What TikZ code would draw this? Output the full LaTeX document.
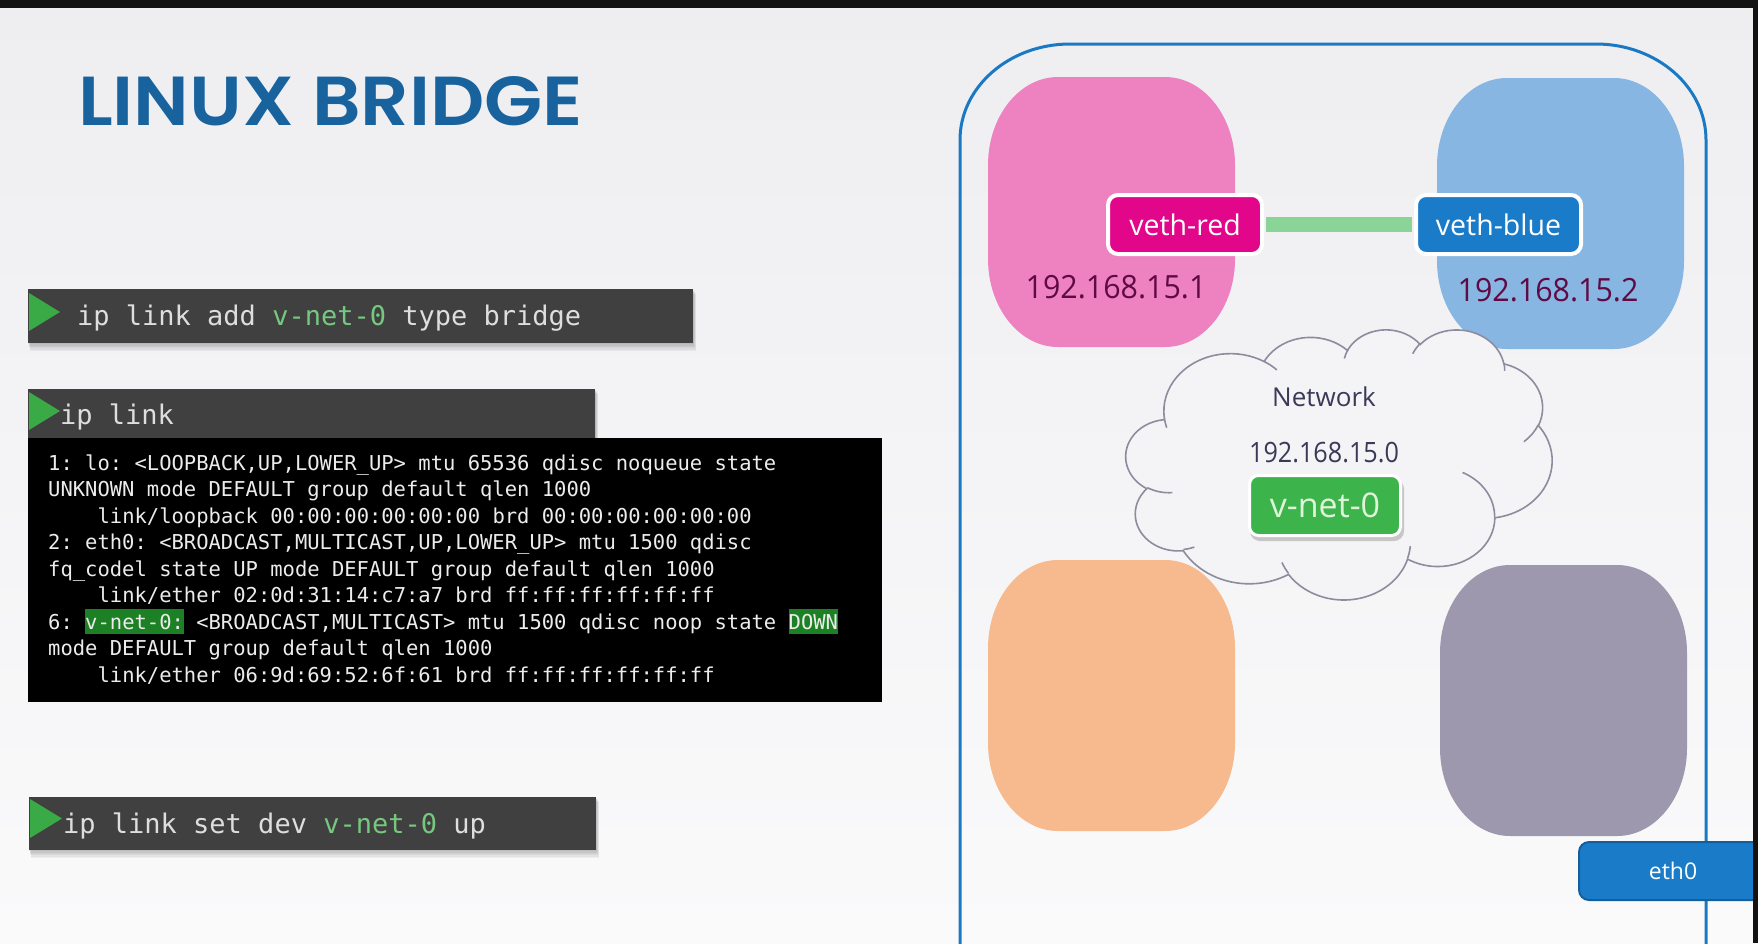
\documentclass[tikz,border=0pt]{standalone}
\usepackage{fontspec}
\usepackage{graphicx}
\newfontfamily\uisans{Open Sans}
\newfontfamily\termmono{DejaVu Sans Mono}
\newfontfamily\headfont{Poppins SemiBold}

\definecolor{bgtop}{RGB}{238,238,241}
\definecolor{bgbot}{RGB}{250,250,251}
\definecolor{framedark}{RGB}{18,18,18}
\definecolor{cmdgray}{RGB}{64,64,64}
\definecolor{cmdtext}{RGB}{222,222,222}
\definecolor{cmdgreen}{RGB}{118,200,128}
\definecolor{playgreen}{RGB}{57,170,70}
\definecolor{termtext}{RGB}{236,236,236}
\definecolor{hlgreen}{RGB}{28,128,36}
\definecolor{titleblue}{RGB}{24,98,158}
\definecolor{hostblue}{RGB}{27,121,196}
\definecolor{nspink}{RGB}{238,130,193}
\definecolor{nsblue}{RGB}{135,182,226}
\definecolor{nsorange}{RGB}{246,186,142}
\definecolor{nsgray}{RGB}{157,152,174}
\definecolor{vethred}{RGB}{226,6,138}
\definecolor{vethblue}{RGB}{26,124,200}
\definecolor{pipegreen}{RGB}{137,212,150}
\definecolor{ipred}{RGB}{96,10,68}
\definecolor{cloudline}{RGB}{140,140,158}
\definecolor{cloudfill}{RGB}{244,244,247}
\definecolor{netnavy}{RGB}{58,58,88}
\definecolor{bridgegreen}{RGB}{60,180,75}
\definecolor{bridgetext}{RGB}{222,245,218}
\definecolor{ethborder}{RGB}{20,94,158}

% green highlight behind terminal words
\newcommand\hl[1]{{\setlength{\fboxsep}{0pt}\colorbox{hlgreen}{\rule[-5pt]{0pt}{25pt}#1}}}

% namespace blob: rounded rectangle with elliptic corners
\newcommand\nsshape[5]{%
  \fill[#1] ({#2+70},#3) -- ({#4-70},#3)
    arc[start angle=-90,end angle=0,x radius=70,y radius=88] -- (#4,{#5-88})
    arc[start angle=0,end angle=90,x radius=70,y radius=88] -- ({#2+70},#5)
    arc[start angle=90,end angle=180,x radius=70,y radius=88] -- (#2,{#3+88})
    arc[start angle=180,end angle=270,x radius=70,y radius=88] -- cycle;}

% soft shadow under a command bar
\newcommand\barshadow[4]{%
  \foreach \k in {1,...,6}{%
    \fill[black,opacity=0.045] ({#1+\k*0.3},{#2+\k*0.8}) rectangle ({#3+\k*0.5},{#4+\k*1.3});}}

% cloud outline arcs: ray angle -> ellipse parameter
\newcommand\cloudang[3]{%
  \pgfmathsetmacro\clouddiff{atan2((#1)*sin(#3),(#2)*cos(#3))-(#3)}%
  \pgfmathsetmacro\cloudres{(#3)+\clouddiff-360*round(\clouddiff/360)}}
\newcommand\cloudarc[4]{%
  \cloudang{#1}{#2}{#3}\global\let\cloudsa\cloudres
  \pgfmathsetmacro\cloudend{(#3)+(#4)}%
  \cloudang{#1}{#2}{\cloudend}\global\let\cloudea\cloudres}

\tikzset{
  cmdbox/.style={fill=cmdgray, inner sep=0pt, anchor=north west},
  cmdtxt/.style={anchor=base west, inner sep=0pt, text=cmdtext,
    font=\termmono\fontsize{27}{32}\selectfont\frenchspacing},
  termtxt/.style={anchor=base west, inner sep=0pt, text=termtext,
    font=\termmono\fontsize{20.5}{24}\selectfont\frenchspacing},
  iface/.style={draw=white, line width=4pt, rounded corners=10pt, text=white,
    font=\uisans\fontsize{28.5}{34}\selectfont, inner sep=0pt, minimum height=59pt},
  iptxt/.style={anchor=base, inner sep=0pt, text=ipred,
    font=\uisans\fontsize{32}{38}\selectfont},
  cloudpen/.style={draw=cloudline, line width=1.6pt},
}

\begin{document}
\begin{tikzpicture}[x=1pt,y=-1pt]
\useasboundingbox (0,0) rectangle (1758,943);
\shade[top color=bgtop, bottom color=bgbot] (0,0) rectangle (1758,943);

% title
\node[anchor=base west, inner sep=0pt, text=titleblue] (title) at (78,125)
  {\resizebox{505pt}{49pt}{\headfont LINUX BRIDGE}};

% command bar 1
\barshadow{28}{289}{693}{343}
\node[cmdbox, minimum width=665pt, minimum height=54pt] (cmd1) at (28,289) {};
\fill[playgreen] (29,293) -- (60,312) -- (29,331) -- cycle;
\node[cmdtxt] (cmd1txt) at (77,325) {ip link add \textcolor{cmdgreen}{v-net-0} type bridge};

% command bar 2 with its output
\barshadow{28}{389}{595}{438}
\node[cmdbox, minimum width=567pt, minimum height=49pt] (cmd2) at (28,389) {};
\fill[playgreen] (29,392) -- (60,411) -- (29,430) -- cycle;
\node[cmdtxt] (cmd2txt) at (60,424) {ip link};
\node[fill=black, inner sep=0pt, anchor=north west, minimum width=854pt, minimum height=264pt] (term) at (28,438) {};
\node[termtxt] (t1) at (48,470) {1: lo: <LOOPBACK,UP,LOWER\_UP> mtu 65536 qdisc noqueue state};
\node[termtxt] (t2) at (48,496.5) {UNKNOWN mode DEFAULT group default qlen 1000};
\node[termtxt] (t3) at (97.4,523) {link/loopback 00:00:00:00:00:00 brd 00:00:00:00:00:00};
\node[termtxt] (t4) at (48,549.5) {2: eth0: <BROADCAST,MULTICAST,UP,LOWER\_UP> mtu 1500 qdisc};
\node[termtxt] (t5) at (48,576) {fq\_codel state UP mode DEFAULT group default qlen 1000};
\node[termtxt] (t6) at (97.4,602.5) {link/ether 02:0d:31:14:c7:a7 brd ff:ff:ff:ff:ff:ff};
\node[termtxt] (t7) at (48,629) {6: \hl{v-net-0:} <BROADCAST,MULTICAST> mtu 1500 qdisc noop state \hl{DOWN}};
\node[termtxt] (t8) at (48,655.5) {mode DEFAULT group default qlen 1000};
\node[termtxt] (t9) at (97.4,682) {link/ether 06:9d:69:52:6f:61 brd ff:ff:ff:ff:ff:ff};

% command bar 3
\barshadow{29}{797}{596}{850}
\node[cmdbox, minimum width=567pt, minimum height=53pt] (cmd3) at (29,797) {};
\fill[playgreen] (30,799) -- (62,818.5) -- (30,838) -- cycle;
\node[cmdtxt] (cmd3txt) at (63,833) {ip link set dev \textcolor{cmdgreen}{v-net-0} up};

% host boundary
\draw[hostblue, line width=3pt] (960,953) -- (960,140)
  arc[start angle=180,end angle=270,x radius=110,y radius=96] -- (1596,44)
  arc[start angle=270,end angle=360,x radius=110,y radius=96] -- (1706,953);

% namespaces
\nsshape{nspink}{988}{77}{1235}{347}
\nsshape{nsblue}{1437}{78}{1684}{349}
\nsshape{nsorange}{988}{560}{1235}{831}
\nsshape{nsgray}{1440}{565}{1687}{836}

% veth pair
\node[iface, fill=vethred, minimum width=154pt] (vred) at (1185,224.5) {veth-red};
\node[iface, fill=vethblue, minimum width=165pt] (vblue) at (1498.5,224.5) {veth-blue};
\draw[pipegreen, line width=15pt, shorten <=2pt, shorten >=2pt] (vred.east) -- (vblue.west);
\node[iptxt] (ipred) at (1116,298) {\scalebox{0.95}[1]{192.168.15.1}};
\node[iptxt] (ipblue) at (1548,301) {\scalebox{0.95}[1]{192.168.15.2}};

% network cloud
\begin{scope}[shift={(1126,329)}, x=0.98611pt, y=-0.625pt]
  \filldraw[cloudpen, fill=cloudfill] (39,143.7)
    \foreach \rw/\rh/\sa/\sw in {67.53/91.90/-190.4875/123.7805,
      53.33/72.67/-144.1024/89.9452, 43.65/59.45/-145.8079/99.7230,
      48.57/65.95/-130.9861/117.2417, 53.33/72.73/-78.7089/109.0269,
      67.75/92.20/-46.2673/130.2690, 57.85/78.67/0.6250/114.0333,
      67.52/92.15/22.4516/115.1726, 77.20/105.43/66.2426/75.7110,
      43.60/59.18/-274.9421/146.7356, 43.45/59.45/-246.8285/152.5189}
    { \pgfextra{\cloudarc{\rw}{\rh}{\sa}{\sw}}
      arc[x radius=\rw, y radius=\rh, start angle=\cloudsa, end angle=\cloudea] }
    -- cycle;
  \draw[cloudpen]
    \foreach \px/\py/\rw/\rh/\sa/\sw in {46.93/261.77/43.45/59.45/86.7420/26.4295,
      69.28/348.99/43.60/59.18/73.6105/11.4475, 164.78/390.90/67.52/92.15/137.6242/14.0811,
      288.27/347.51/67.52/92.15/6.4533/15.9984, 341.29/229.54/57.85/78.67/-70.2924/70.9174,
      417.98/153.54/53.33/72.73/30.3180/27.7515, 383.24/54.26/48.57/65.95/-13.7443/14.8589,
      290.78/39.52/48.57/65.95/-149.1815/18.1954, 221.41/47.20/43.65/59.45/-163.4943/17.6864,
      140.00/51.92/67.53/91.90/-66.7070/12.3194, 41.27/157.89/67.53/91.90/157.6544/11.8582}
    { (\px,\py) \pgfextra{\cloudarc{\rw}{\rh}{\sa}{\sw}}
      arc[x radius=\rw, y radius=\rh, start angle=\cloudsa, end angle=\cloudea] };
\end{scope}
\node[anchor=base, inner sep=0pt, text=netnavy, font=\uisans\fontsize{26}{30}\selectfont] (netlabel) at (1324,406) {Network};
\node[anchor=base, inner sep=0pt, text=netnavy, font=\uisans\fontsize{28}{32}\selectfont] (netip) at (1324,462) {\scalebox{0.9}[1]{192.168.15.0}};

% bridge interface
\fill[black!40, opacity=0.5, rounded corners=10pt] (1250,479) rectangle (1404,541);
\node[draw=white, line width=3pt, rounded corners=9pt, fill=bridgegreen, text=bridgetext,
  inner sep=0pt, minimum width=151pt, minimum height=60pt,
  font=\uisans\fontsize{34}{40}\selectfont] (vnet) at (1325,505.5) {v-net-0};

% host interface
\node[fill=vethblue, draw=ethborder, line width=2pt, rounded corners=10pt, text=white,
  inner sep=0pt, minimum width=188pt, minimum height=58pt,
  font=\uisans\fontsize{23}{27}\selectfont] (eth0) at (1673,871) {eth0};

% dark frame edges
\fill[framedark] (0,0) rectangle (1758,8);
\fill[framedark] (1753,0) rectangle (1758,943);
\end{tikzpicture}
\end{document}
